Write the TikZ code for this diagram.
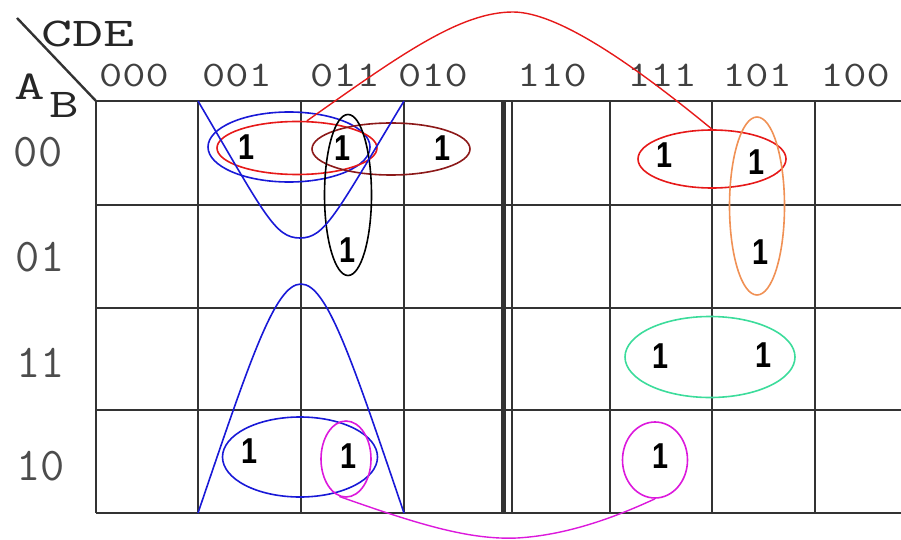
\documentclass[tikz,border=0pt]{standalone}
\usepackage{fontspec}
\usepackage{graphicx}
\newfontfamily\onefont{Liberation Sans}
\usetikzlibrary{shapes.geometric}
\definecolor{loopblue}{RGB}{25,25,215}
\definecolor{loopred}{RGB}{230,25,25}
\definecolor{loopbrown}{RGB}{140,25,25}
\definecolor{looporange}{RGB}{240,145,85}
\definecolor{loopgreen}{RGB}{60,220,155}
\definecolor{loopmagenta}{RGB}{220,25,220}
\tikzset{
  kgrid/.style={line width=2.8pt, draw=black!80},
  one/.style={font=\onefont\bfseries\fontsize{36}{36}\selectfont, inner sep=0pt},
  varlabel/.style={font=\ttfamily\fontsize{41}{41}\selectfont, text=black!85, inner sep=0pt, anchor=base},
  collabel/.style={font=\ttfamily\fontsize{36}{36}\selectfont, text=black!75, inner sep=0pt, anchor=base},
  rowlabel/.style={font=\ttfamily\fontsize{47}{47}\selectfont, text=black!70, inner sep=0pt, anchor=base},
  kloop/.style={ellipse, draw, line width=1.6pt, inner sep=0pt},
}
\begin{document}
\begin{tikzpicture}[x=1pt, y=-1pt]
  \useasboundingbox (0,0) rectangle (901,540);

  % map grid
  \foreach \y in {101,205,308,410,513}
    \draw[kgrid] (96,\y) -- (901,\y);
  \foreach \x in {96,198,301,404,610,712,815}
    \draw[kgrid] (\x,101) -- (\x,513);
  \draw[kgrid, line width=5pt] (503,101) -- (503,513);
  \draw[kgrid] (512,101) -- (512,513);
  \draw[kgrid, line width=2.4pt] (17,18) -- (96,101);

  % variable names and codes
  \node[varlabel] (cde) at (88,47) {\scalebox{1.47}[1]{CDE}};
  \node[varlabel] (a) at (30,100) {\scalebox{1.45}[1]{A}};
  \node[varlabel] (b) at (64,118) {\scalebox{1.4}[1]{B}};
  \foreach \x/\c in {134/000,237/001,345/011,433/010,552/110,662/111,757/101,855/100}
    \node[collabel] (col-\c) at (\x,87) {\scalebox{1.25}[1]{\c}};
  \foreach \x/\y/\r in {38/167/00,40/271/01,41/377/11,41/480/10}
    \node[rowlabel] (row-\r) at (\x,\y) {\r};

  % the ones
  \foreach \x/\y/\n in {247/147/a,343/148/b,443/148/c,348/250/d,664/155/e,756/162/f,
                        760/252/g,660/356/h,763/355/i,250/451/j,349/456/k,660/456/l}
    \node[one] (one-\n) at (\x,\y) {\scalebox{0.8}[1]{1}};

  % groups
  \node[kloop, draw=loopblue, minimum width=162, minimum height=70] (blue-top) at (289,147) {};
  \node[kloop, draw=loopred, minimum width=160, minimum height=53] (red-left) at (297,148) {};
  \node[kloop, draw=loopbrown, minimum width=158, minimum height=52] (brown) at (391,149) {};
  \node[kloop, draw=black, minimum width=47, minimum height=161] (black) at (348,195) {};
  \node[kloop, draw=loopred, minimum width=148, minimum height=58] (red-right) at (712,159) {};
  \node[kloop, draw=looporange, minimum width=55, minimum height=178] (orange) at (757,206) {};
  \node[kloop, draw=loopgreen, minimum width=170, minimum height=81] (green) at (710,357) {};
  \node[kloop, draw=loopblue, minimum width=155, minimum height=80] (blue-bot) at (300,457) {};
  \node[kloop, draw=loopmagenta, minimum width=50, minimum height=76] (mag-left) at (346,459) {};
  \node[kloop, draw=loopmagenta, minimum width=65, minimum height=76] (mag-right) at (655,460) {};

  % wrap-around groups
  \draw[loopblue, line width=1.6pt] (198,101) .. controls (265,215) and (275,238) .. (300,238)
    .. controls (325,238) and (335,215) .. (404,101);
  \draw[loopblue, line width=1.6pt] (198,513) .. controls (250,360) and (275,284) .. (301,284)
    .. controls (327,284) and (352,360) .. (404,513);
  \draw[loopred, line width=1.4pt] (red-left.70) .. controls (400,55) and (460,12) .. (513,12)
    .. controls (560,12) and (640,70) .. (red-right.north);
  \draw[loopmagenta, line width=1.4pt] (mag-left.260) .. controls (420,525) and (470,540) .. (517,538)
    .. controls (570,535) and (620,515) .. (mag-right.south);
\end{tikzpicture}
\end{document}
